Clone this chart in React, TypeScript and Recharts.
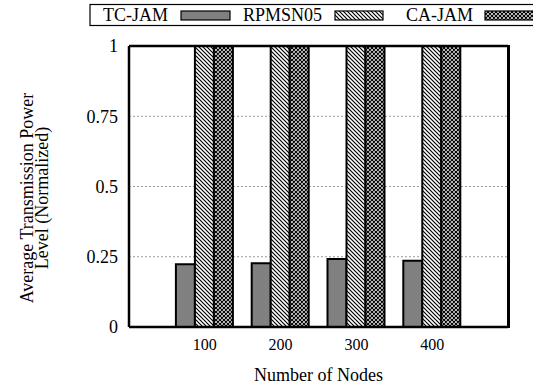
import { BarChart, Bar, XAxis, YAxis, CartesianGrid, ReferenceLine } from "recharts"

const nodes = ["100", "200", "300", "400"]
const tcJam = [0.223, 0.227, 0.242, 0.236]
const rpmsn05 = [1, 1, 1, 1]
const caJam = [1, 1, 1, 1]
const yTicks = [0, 0.25, 0.5, 0.75, 1]

const data = nodes.map((n, i) => ({ n, tc: tcJam[i], rp: rpmsn05[i], ca: caJam[i] }))

const FONT = "Liberation Serif"

const diagPath = "M-1,-1 L5,5 M-1,3 L1,5 M3,-1 L5,1"
const crossPath = diagPath + " M5,-1 L-1,5 M1,-1 L-1,1 M5,3 L3,5"

// plot frame (same box as the chart margins below)
const PL = 129, PT = 46, PW = 379, PH = 281

function Overlay() {
  const cy = 198
  return (
    <svg width={533} height={386} style={{ position: "absolute", left: 0, top: 0, pointerEvents: "none" }}>
      <defs>
        <pattern id="diag" width="4" height="4" patternUnits="userSpaceOnUse">
          <rect width="4" height="4" fill="#fff" />
          <path d={diagPath} stroke="#000" strokeWidth="1.2" />
        </pattern>
        <pattern id="cross" width="4" height="4" patternUnits="userSpaceOnUse">
          <rect width="4" height="4" fill="#fff" />
          <path d={crossPath} stroke="#000" strokeWidth="1.2" />
        </pattern>
      </defs>
      <g fontFamily={FONT} fontSize={18} fill="#000">
        <text x={33} y={cy} textAnchor="middle" transform={`rotate(-90 33 ${cy})`}>Average Transmission Power</text>
        <text x={48} y={cy} textAnchor="middle" transform={`rotate(-90 48 ${cy})`}>Level (Normalized)</text>
        <text x={PL + PW / 2} y={381} textAnchor="middle">Number of Nodes</text>
      </g>
      <rect x={90} y={4.5} width={460} height={21} fill="#fff" stroke="#000" strokeWidth={1.2} />
      <g fontFamily={FONT} fontSize={18} fill="#000">
        <text x={168} y={21} textAnchor="end">TC-JAM</text>
        <text x={322} y={21} textAnchor="end">RPMSN05</text>
        <text x={473} y={21} textAnchor="end">CA-JAM</text>
      </g>
      <rect x={181} y={11} width={49} height={9} fill="#808080" stroke="#000" strokeWidth={1.2} />
      <rect x={335} y={11} width={48} height={9} fill="url(#diag)" stroke="#000" strokeWidth={1.2} />
      <rect x={485} y={11} width={60} height={9} fill="url(#cross)" stroke="#000" strokeWidth={1.2} />
    </svg>
  )
}

export default function App() {
  return (
    <div style={{ position: "absolute", left: 0, top: 0, width: 533, height: 386, background: "#fff" }}>
      <BarChart
        width={533}
        height={386}
        data={data}
        margin={{ top: PT, right: 533 - PL - PW, bottom: 386 - PT - PH - 30, left: 0 }}
        barSize={19}
        barGap={0}
      >
        <CartesianGrid vertical={false} stroke="#999" strokeDasharray="2 2" />
        <XAxis
          dataKey="n"
          height={30}
          padding={{ left: 37.9, right: 37.9 }}
          stroke="#000"
          strokeWidth={2.5}
          tickLine={false}
          tickSize={0}
          tickMargin={12}
          tick={{ fill: "#000", fontSize: 16, fontFamily: FONT }}
        />
        <YAxis
          width={PL}
          domain={[0, 1]}
          ticks={yTicks}
          stroke="#000"
          strokeWidth={2.5}
          tickLine={false}
          tickSize={0}
          tickMargin={11}
          tick={{ fill: "#000", fontSize: 18, fontFamily: FONT }}
        />
        <ReferenceLine y={1} stroke="#000" strokeWidth={2.5} />
        <Bar dataKey="tc" name="TC-JAM" fill="#808080" stroke="#000" strokeWidth={2} isAnimationActive={false} />
        <Bar dataKey="rp" name="RPMSN05" fill="url(#diag)" stroke="#000" strokeWidth={2} isAnimationActive={false} />
        <Bar dataKey="ca" name="CA-JAM" fill="url(#cross)" stroke="#000" strokeWidth={2} isAnimationActive={false} />
      </BarChart>
      <div
        style={{
          position: "absolute",
          left: PL + PW - 1,
          top: PT - 1,
          width: 2.5,
          height: PH + 2,
          background: "#000",
          pointerEvents: "none",
        }}
      />
      <Overlay />
    </div>
  )
}
